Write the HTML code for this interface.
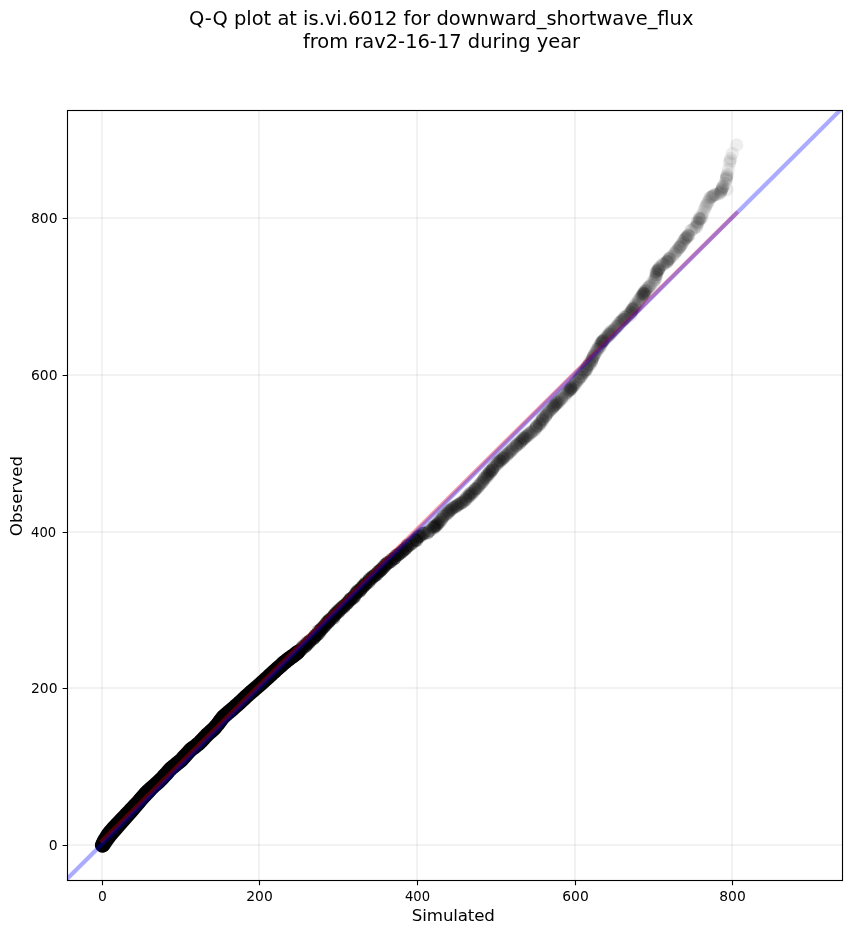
<!DOCTYPE html>
<html><head><meta charset="utf-8"><title>Q-Q plot</title>
<style>html,body{margin:0;padding:0;background:#fff}body{width:851px;height:934px;overflow:hidden}</style></head>
<body>
<svg width="851" height="934" viewBox="0 0 851 934" style="display:block">
<rect width="851" height="934" fill="#fff"/>
<defs><clipPath id="ax"><rect x="67.5" y="110.5" width="775.0" height="770.0"/></clipPath></defs>
<g stroke="#b0b0b0" stroke-opacity="0.17" stroke-width="2.08" fill="none">
<path d="M102.0 110.5V880.5"/>
<path d="M259.0 110.5V880.5"/>
<path d="M417.0 110.5V880.5"/>
<path d="M575.0 110.5V880.5"/>
<path d="M732.0 110.5V880.5"/>
<path d="M67.5 845.0H842.5"/>
<path d="M67.5 688.0H842.5"/>
<path d="M67.5 532.0H842.5"/>
<path d="M67.5 375.0H842.5"/>
<path d="M67.5 218.0H842.5"/>
</g>
<g clip-path="url(#ax)">
<polyline fill="none" stroke="#000" stroke-width="14.8" stroke-linecap="round" stroke-linejoin="round" points="102.3,845.2 103.0,843.7 103.8,841.8 104.7,840.1 105.8,838.4 106.8,836.7 107.9,835.0 109.1,833.4 110.3,831.8 111.6,830.3 112.9,828.8 114.3,827.3 115.7,825.9 117.1,824.4 118.4,823.0 119.8,821.5 121.2,820.1 122.6,818.6 123.9,817.2 125.3,815.7 126.7,814.3 128.1,812.8 129.5,811.4 130.9,809.9 132.2,808.5 133.6,807.0 135.0,805.6 136.4,804.1 137.7,802.7 139.1,801.2 140.4,799.7 141.7,798.2 143.0,796.7 144.3,795.1 145.6,793.6 147.0,792.2 148.4,790.8 149.9,789.5 151.4,788.1 152.9,786.8 154.4,785.5 155.9,784.2 157.4,782.9 158.9,781.5 160.3,780.1 161.7,778.7 163.1,777.2 164.4,775.7 165.8,774.3 167.1,772.8 168.4,771.3 169.8,769.8 171.1,768.3 172.7,767.1 174.2,765.8 175.8,764.6 177.4,763.3 178.9,762.0 180.5,760.8 181.9,759.4 183.2,757.9 184.6,756.4 185.9,755.0 187.3,753.5 188.6,752.0 190.0,750.5 191.4,749.2 193.0,748.0 194.6,746.8 196.2,745.6 197.8,744.3 199.3,743.0 200.7,741.6 202.1,740.1 203.5,738.7 204.8,737.2 206.2,735.7 207.6,734.3 209.1,733.0 210.6,731.7 212.1,730.4 213.6,729.0 214.9,727.6 216.2,726.0 217.5,724.5 218.8,722.9 219.9,721.3 221.1,719.7 222.3,718.1 223.6,716.6 225.1,715.3 226.7,714.0 228.2,712.7 229.7,711.4 231.2,710.1 232.7,708.8 234.2,707.5 235.7,706.2 237.2,704.8 238.7,703.5 240.2,702.1 241.6,700.8 243.1,699.4 244.6,698.1 246.0,696.7 247.5,695.3 249.0,694.0 250.5,692.7 252.0,691.4 253.5,690.1 255.0,688.8 256.6,687.5 258.1,686.2 259.6,684.9 261.1,683.5 262.5,682.2 264.0,680.8 265.5,679.5 267.0,678.1 268.4,676.8 269.9,675.4 271.4,674.1 272.9,672.7 274.4,671.4 275.8,670.0 277.3,668.7 278.8,667.4 280.3,666.1 281.8,664.8 283.3,663.4 284.9,662.1 286.4,660.8 287.9,659.6 289.6,658.4 291.2,657.2 292.8,656.1 294.4,654.9 296.0,653.7 297.5,652.4"/>
<g fill="#000" fill-opacity="0.3">
<circle cx="262.9" cy="682.1" r="6.8"/>
<circle cx="263.5" cy="682.8" r="6.8"/>
<circle cx="263.2" cy="681.2" r="6.8"/>
<circle cx="264.4" cy="680.9" r="6.8"/>
<circle cx="264.8" cy="680.1" r="6.8"/>
<circle cx="265.1" cy="678.9" r="6.8"/>
<circle cx="267.0" cy="678.2" r="6.8"/>
<circle cx="267.8" cy="677.7" r="6.8"/>
<circle cx="268.2" cy="677.6" r="6.8"/>
<circle cx="268.8" cy="677.8" r="6.8"/>
<circle cx="269.9" cy="676.2" r="6.8"/>
<circle cx="268.8" cy="675.4" r="6.8"/>
<circle cx="270.3" cy="676.2" r="6.8"/>
<circle cx="270.3" cy="674.6" r="6.8"/>
<circle cx="272.3" cy="674.5" r="6.8"/>
<circle cx="272.2" cy="673.6" r="6.8"/>
<circle cx="272.9" cy="672.4" r="6.8"/>
<circle cx="273.5" cy="672.7" r="6.8"/>
<circle cx="274.1" cy="670.7" r="6.8"/>
<circle cx="275.2" cy="671.4" r="6.8"/>
<circle cx="275.9" cy="670.9" r="6.8"/>
<circle cx="275.3" cy="670.9" r="6.8"/>
<circle cx="277.0" cy="669.5" r="6.8"/>
<circle cx="277.6" cy="668.9" r="6.8"/>
<circle cx="278.3" cy="668.7" r="6.8"/>
<circle cx="278.8" cy="667.8" r="6.8"/>
<circle cx="278.4" cy="667.6" r="6.8"/>
<circle cx="279.8" cy="666.7" r="6.8"/>
<circle cx="280.6" cy="665.7" r="6.8"/>
<circle cx="282.1" cy="665.1" r="6.8"/>
<circle cx="281.4" cy="665.1" r="6.8"/>
<circle cx="281.7" cy="664.2" r="6.8"/>
<circle cx="282.6" cy="663.2" r="6.8"/>
<circle cx="282.9" cy="662.3" r="6.8"/>
<circle cx="283.9" cy="662.4" r="6.8"/>
<circle cx="285.0" cy="661.6" r="6.8"/>
<circle cx="285.4" cy="662.6" r="6.8"/>
<circle cx="285.9" cy="660.6" r="6.8"/>
<circle cx="287.7" cy="660.2" r="6.8"/>
<circle cx="287.8" cy="659.5" r="6.8"/>
<circle cx="288.0" cy="658.7" r="6.8"/>
<circle cx="290.0" cy="658.8" r="6.8"/>
<circle cx="289.2" cy="658.3" r="6.8"/>
<circle cx="290.3" cy="658.2" r="6.8"/>
<circle cx="291.6" cy="656.9" r="6.8"/>
<circle cx="292.9" cy="656.8" r="6.8"/>
<circle cx="293.4" cy="655.9" r="6.8"/>
<circle cx="293.0" cy="655.7" r="6.8"/>
<circle cx="294.2" cy="655.3" r="6.8"/>
<circle cx="295.1" cy="654.8" r="6.8"/>
<circle cx="295.5" cy="653.6" r="6.8"/>
<circle cx="296.0" cy="653.8" r="6.8"/>
<circle cx="298.0" cy="652.7" r="6.8"/>
<circle cx="297.9" cy="651.6" r="6.8"/>
<circle cx="298.8" cy="652.3" r="6.8"/>
<circle cx="299.4" cy="651.0" r="6.8"/>
<circle cx="299.2" cy="650.5" r="6.8"/>
<circle cx="301.0" cy="649.8" r="6.8"/>
<circle cx="301.0" cy="649.7" r="6.8"/>
<circle cx="301.1" cy="648.8" r="6.8"/>
<circle cx="303.0" cy="648.1" r="6.8"/>
<circle cx="302.9" cy="646.2" r="6.8"/>
<circle cx="303.7" cy="646.6" r="6.8"/>
<circle cx="305.2" cy="646.3" r="6.8"/>
<circle cx="305.8" cy="646.0" r="6.8"/>
<circle cx="306.2" cy="644.4" r="6.8"/>
<circle cx="306.6" cy="644.9" r="6.8"/>
<circle cx="307.0" cy="642.6" r="6.8"/>
<circle cx="308.1" cy="642.8" r="6.8"/>
<circle cx="308.6" cy="643.0" r="6.8"/>
<circle cx="309.5" cy="641.9" r="6.8"/>
<circle cx="309.8" cy="641.0" r="6.8"/>
<circle cx="309.8" cy="640.8" r="6.8"/>
<circle cx="311.5" cy="639.6" r="6.8"/>
<circle cx="313.2" cy="638.5" r="6.8"/>
<circle cx="313.5" cy="638.1" r="6.8"/>
<circle cx="314.6" cy="637.3" r="6.8"/>
<circle cx="314.4" cy="637.8" r="6.8"/>
<circle cx="315.3" cy="635.6" r="6.8"/>
<circle cx="315.2" cy="635.5" r="6.8"/>
<circle cx="315.9" cy="635.3" r="6.8"/>
<circle cx="317.4" cy="634.5" r="6.8"/>
<circle cx="317.3" cy="634.4" r="6.8"/>
<circle cx="319.2" cy="633.1" r="6.8"/>
<circle cx="318.3" cy="631.1" r="6.8"/>
<circle cx="320.2" cy="630.8" r="6.8"/>
<circle cx="319.9" cy="630.7" r="6.8"/>
<circle cx="320.7" cy="629.7" r="6.8"/>
<circle cx="321.1" cy="629.9" r="6.8"/>
<circle cx="321.4" cy="628.6" r="6.8"/>
<circle cx="323.2" cy="627.7" r="6.8"/>
<circle cx="323.0" cy="627.5" r="6.8"/>
<circle cx="324.3" cy="626.0" r="6.8"/>
<circle cx="324.7" cy="625.3" r="6.8"/>
<circle cx="325.4" cy="625.6" r="6.8"/>
<circle cx="325.9" cy="624.2" r="6.8"/>
<circle cx="326.7" cy="622.6" r="6.8"/>
<circle cx="327.4" cy="622.1" r="6.8"/>
<circle cx="328.5" cy="622.3" r="6.8"/>
<circle cx="328.6" cy="621.4" r="6.8"/>
<circle cx="329.1" cy="621.2" r="6.8"/>
<circle cx="329.1" cy="620.1" r="6.8"/>
<circle cx="329.5" cy="619.7" r="6.8"/>
<circle cx="331.2" cy="618.8" r="6.8"/>
<circle cx="332.0" cy="618.3" r="6.8"/>
<circle cx="333.7" cy="618.0" r="6.8"/>
<circle cx="333.3" cy="616.5" r="6.8"/>
<circle cx="333.5" cy="616.0" r="6.8"/>
<circle cx="334.4" cy="615.7" r="6.8"/>
<circle cx="334.9" cy="614.0" r="6.8"/>
<circle cx="335.6" cy="614.3" r="6.8"/>
<circle cx="336.4" cy="613.5" r="6.8"/>
<circle cx="336.5" cy="612.3" r="6.8"/>
<circle cx="337.8" cy="612.0" r="6.8"/>
<circle cx="338.9" cy="611.6" r="6.8"/>
<circle cx="338.7" cy="610.0" r="6.8"/>
<circle cx="339.5" cy="610.5" r="6.8"/>
<circle cx="340.5" cy="608.8" r="6.8"/>
<circle cx="341.2" cy="608.9" r="6.8"/>
<circle cx="342.2" cy="607.3" r="6.8"/>
<circle cx="342.9" cy="606.6" r="6.8"/>
<circle cx="343.8" cy="607.1" r="6.8"/>
<circle cx="344.5" cy="605.6" r="6.8"/>
<circle cx="344.8" cy="605.3" r="6.8"/>
<circle cx="347.0" cy="603.4" r="6.8"/>
<circle cx="346.1" cy="604.3" r="6.8"/>
<circle cx="347.7" cy="602.5" r="6.8"/>
<circle cx="348.1" cy="602.2" r="6.8"/>
<circle cx="349.3" cy="600.7" r="6.8"/>
<circle cx="350.3" cy="600.1" r="6.8"/>
<circle cx="349.9" cy="599.2" r="6.8"/>
<circle cx="350.8" cy="599.1" r="6.8"/>
<circle cx="351.6" cy="598.4" r="6.8"/>
<circle cx="353.1" cy="598.2" r="6.8"/>
<circle cx="353.4" cy="596.8" r="6.8"/>
<circle cx="354.7" cy="596.6" r="6.8"/>
<circle cx="354.6" cy="595.4" r="6.8"/>
<circle cx="355.3" cy="594.3" r="6.8"/>
<circle cx="356.5" cy="593.0" r="6.8"/>
<circle cx="357.4" cy="591.8" r="6.8"/>
<circle cx="356.6" cy="591.7" r="6.8"/>
<circle cx="359.0" cy="591.6" r="6.8"/>
<circle cx="358.2" cy="590.5" r="6.8"/>
<circle cx="360.4" cy="590.4" r="6.8"/>
<circle cx="360.6" cy="589.1" r="6.8"/>
<circle cx="360.9" cy="589.1" r="6.8"/>
<circle cx="362.2" cy="587.3" r="6.8"/>
<circle cx="362.9" cy="587.3" r="6.8"/>
<circle cx="362.9" cy="585.7" r="6.8"/>
<circle cx="364.0" cy="585.7" r="6.8"/>
<circle cx="364.7" cy="584.9" r="6.8"/>
<circle cx="365.7" cy="584.1" r="6.8"/>
<circle cx="365.4" cy="583.1" r="6.8"/>
<circle cx="366.8" cy="582.9" r="6.8"/>
<circle cx="368.8" cy="582.2" r="6.8"/>
<circle cx="369.1" cy="580.1" r="6.8"/>
<circle cx="369.3" cy="580.1" r="6.8"/>
<circle cx="370.1" cy="578.5" r="6.8"/>
<circle cx="371.6" cy="578.8" r="6.8"/>
<circle cx="372.4" cy="576.7" r="6.8"/>
<circle cx="372.6" cy="577.1" r="6.8"/>
<circle cx="374.0" cy="576.0" r="6.8"/>
<circle cx="374.7" cy="575.9" r="6.8"/>
<circle cx="375.3" cy="574.5" r="6.8"/>
<circle cx="376.5" cy="574.8" r="6.8"/>
<circle cx="377.7" cy="573.1" r="6.8"/>
<circle cx="378.1" cy="571.8" r="6.8"/>
<circle cx="379.3" cy="571.1" r="6.8"/>
<circle cx="379.8" cy="571.1" r="6.8"/>
<circle cx="381.1" cy="570.2" r="6.8"/>
<circle cx="381.2" cy="569.4" r="6.8"/>
<circle cx="382.1" cy="568.7" r="6.8"/>
<circle cx="383.3" cy="567.2" r="6.8"/>
<circle cx="384.6" cy="566.7" r="6.8"/>
<circle cx="384.4" cy="565.6" r="6.8"/>
<circle cx="386.3" cy="564.3" r="6.8"/>
<circle cx="386.3" cy="564.1" r="6.8"/>
<circle cx="387.6" cy="562.5" r="6.8"/>
<circle cx="388.3" cy="563.0" r="6.8"/>
<circle cx="390.4" cy="561.6" r="6.8"/>
<circle cx="390.9" cy="561.3" r="6.8"/>
<circle cx="391.8" cy="559.2" r="6.8"/>
<circle cx="393.9" cy="558.9" r="6.8"/>
<circle cx="394.1" cy="558.5" r="6.8"/>
<circle cx="395.0" cy="557.7" r="6.8"/>
<circle cx="395.9" cy="555.5" r="6.8"/>
<circle cx="397.7" cy="555.2" r="6.8"/>
<circle cx="398.8" cy="554.2" r="6.8"/>
<circle cx="399.1" cy="553.8" r="6.8"/>
<circle cx="401.2" cy="552.5" r="6.8"/>
<circle cx="402.5" cy="550.9" r="6.8"/>
<circle cx="403.2" cy="550.7" r="6.8"/>
<circle cx="404.9" cy="549.0" r="6.8"/>
<circle cx="405.8" cy="548.5" r="6.8"/>
<circle cx="407.1" cy="546.9" r="6.8"/>
<circle cx="407.5" cy="545.3" r="6.8"/>
<circle cx="409.2" cy="545.3" r="6.8"/>
<circle cx="411.3" cy="544.0" r="6.8"/>
<circle cx="412.4" cy="542.2" r="6.8"/>
<circle cx="414.8" cy="540.4" r="6.8"/>
<circle cx="416.5" cy="540.5" r="6.8"/>
<circle cx="416.2" cy="539.2" r="6.8"/>
<circle cx="418.0" cy="537.3" r="6.8"/>
<circle cx="418.9" cy="536.2" r="6.8"/>
<circle cx="420.9" cy="535.6" r="6.8"/>
<circle cx="422.7" cy="533.6" r="6.8"/>
<circle cx="424.3" cy="533.2" r="6.8"/>
<circle cx="427.6" cy="532.6" r="6.8"/>
<circle cx="429.5" cy="530.7" r="6.8"/>
</g>
<polyline fill="none" stroke="#000" stroke-width="14.8" stroke-linecap="round" stroke-linejoin="round" points="103.0,845.0 106.0,840.6 110.0,835.2 120.0,823.6 130.0,812.4 140.0,800.6 150.0,789.7"/>
<g fill="#000" fill-opacity="0.065">
<circle cx="431.9" cy="527.8" r="6.65"/>
<circle cx="432.7" cy="529.0" r="6.65"/>
<circle cx="432.5" cy="527.7" r="6.65"/>
<circle cx="433.8" cy="527.1" r="6.65"/>
<circle cx="434.3" cy="528.4" r="6.65"/>
<circle cx="433.9" cy="527.7" r="6.65"/>
<circle cx="433.8" cy="526.3" r="6.65"/>
<circle cx="433.4" cy="526.6" r="6.65"/>
<circle cx="433.9" cy="526.9" r="6.65"/>
<circle cx="434.7" cy="526.8" r="6.65"/>
<circle cx="434.6" cy="525.5" r="6.65"/>
<circle cx="434.3" cy="525.9" r="6.65"/>
<circle cx="435.1" cy="526.3" r="6.65"/>
<circle cx="434.7" cy="526.6" r="6.65"/>
<circle cx="436.4" cy="525.8" r="6.65"/>
<circle cx="435.9" cy="526.4" r="6.65"/>
<circle cx="435.8" cy="525.7" r="6.65"/>
<circle cx="435.7" cy="525.5" r="6.65"/>
<circle cx="436.5" cy="524.5" r="6.65"/>
<circle cx="436.9" cy="524.4" r="6.65"/>
<circle cx="436.9" cy="524.6" r="6.65"/>
<circle cx="437.8" cy="524.8" r="6.65"/>
<circle cx="437.4" cy="523.5" r="6.65"/>
<circle cx="437.8" cy="524.2" r="6.65"/>
<circle cx="437.9" cy="522.2" r="6.65"/>
<circle cx="438.2" cy="522.1" r="6.65"/>
<circle cx="438.7" cy="523.1" r="6.65"/>
<circle cx="439.0" cy="522.9" r="6.65"/>
<circle cx="438.9" cy="521.6" r="6.65"/>
<circle cx="439.6" cy="522.3" r="6.65"/>
<circle cx="440.9" cy="521.2" r="6.65"/>
<circle cx="441.2" cy="519.8" r="6.65"/>
<circle cx="440.0" cy="520.7" r="6.65"/>
<circle cx="440.3" cy="519.3" r="6.65"/>
<circle cx="442.2" cy="519.2" r="6.65"/>
<circle cx="441.3" cy="519.9" r="6.65"/>
<circle cx="441.4" cy="518.4" r="6.65"/>
<circle cx="442.5" cy="517.9" r="6.65"/>
<circle cx="443.1" cy="516.6" r="6.65"/>
<circle cx="442.8" cy="516.8" r="6.65"/>
<circle cx="443.4" cy="516.5" r="6.65"/>
<circle cx="444.1" cy="515.8" r="6.65"/>
<circle cx="443.8" cy="515.5" r="6.65"/>
<circle cx="444.4" cy="515.2" r="6.65"/>
<circle cx="446.5" cy="514.2" r="6.65"/>
<circle cx="446.6" cy="514.7" r="6.65"/>
<circle cx="446.2" cy="513.5" r="6.65"/>
<circle cx="446.4" cy="513.6" r="6.65"/>
<circle cx="447.7" cy="513.3" r="6.65"/>
<circle cx="447.9" cy="512.5" r="6.65"/>
<circle cx="448.4" cy="511.8" r="6.65"/>
<circle cx="448.9" cy="512.9" r="6.65"/>
<circle cx="447.6" cy="511.0" r="6.65"/>
<circle cx="448.8" cy="510.5" r="6.65"/>
<circle cx="448.8" cy="511.9" r="6.65"/>
<circle cx="450.8" cy="510.3" r="6.65"/>
<circle cx="449.3" cy="510.8" r="6.65"/>
<circle cx="450.3" cy="510.2" r="6.65"/>
<circle cx="451.1" cy="509.9" r="6.65"/>
<circle cx="451.4" cy="509.8" r="6.65"/>
<circle cx="450.8" cy="509.2" r="6.65"/>
<circle cx="451.7" cy="508.6" r="6.65"/>
<circle cx="452.4" cy="508.0" r="6.65"/>
<circle cx="452.2" cy="508.3" r="6.65"/>
<circle cx="453.2" cy="508.0" r="6.65"/>
<circle cx="454.5" cy="506.9" r="6.65"/>
<circle cx="453.9" cy="507.5" r="6.65"/>
<circle cx="453.9" cy="506.7" r="6.65"/>
<circle cx="455.0" cy="506.6" r="6.65"/>
<circle cx="455.7" cy="507.2" r="6.65"/>
<circle cx="456.2" cy="506.5" r="6.65"/>
<circle cx="456.4" cy="506.1" r="6.65"/>
<circle cx="456.7" cy="506.1" r="6.65"/>
<circle cx="456.9" cy="505.4" r="6.65"/>
<circle cx="457.6" cy="505.2" r="6.65"/>
<circle cx="457.5" cy="504.8" r="6.65"/>
<circle cx="458.7" cy="504.6" r="6.65"/>
<circle cx="457.9" cy="504.7" r="6.65"/>
<circle cx="459.5" cy="504.1" r="6.65"/>
<circle cx="459.3" cy="503.8" r="6.65"/>
<circle cx="460.2" cy="503.3" r="6.65"/>
<circle cx="461.0" cy="503.4" r="6.65"/>
<circle cx="461.3" cy="503.4" r="6.65"/>
<circle cx="461.1" cy="502.7" r="6.65"/>
<circle cx="462.6" cy="502.5" r="6.65"/>
<circle cx="462.0" cy="502.9" r="6.65"/>
<circle cx="461.5" cy="501.8" r="6.65"/>
<circle cx="463.1" cy="501.7" r="6.65"/>
<circle cx="463.5" cy="502.0" r="6.65"/>
<circle cx="463.7" cy="500.3" r="6.65"/>
<circle cx="465.1" cy="500.8" r="6.65"/>
<circle cx="465.6" cy="499.7" r="6.65"/>
<circle cx="465.4" cy="499.5" r="6.65"/>
<circle cx="465.9" cy="499.3" r="6.65"/>
<circle cx="466.2" cy="498.8" r="6.65"/>
<circle cx="465.7" cy="497.5" r="6.65"/>
<circle cx="467.3" cy="499.3" r="6.65"/>
<circle cx="466.2" cy="497.7" r="6.65"/>
<circle cx="468.7" cy="496.5" r="6.65"/>
<circle cx="468.4" cy="496.9" r="6.65"/>
<circle cx="467.3" cy="495.7" r="6.65"/>
<circle cx="469.0" cy="496.4" r="6.65"/>
<circle cx="469.2" cy="495.6" r="6.65"/>
<circle cx="469.0" cy="495.7" r="6.65"/>
<circle cx="469.2" cy="493.9" r="6.65"/>
<circle cx="470.5" cy="495.5" r="6.65"/>
<circle cx="470.3" cy="493.3" r="6.65"/>
<circle cx="469.6" cy="493.6" r="6.65"/>
<circle cx="470.8" cy="494.1" r="6.65"/>
<circle cx="471.6" cy="494.3" r="6.65"/>
<circle cx="471.4" cy="493.0" r="6.65"/>
<circle cx="472.6" cy="493.4" r="6.65"/>
<circle cx="471.9" cy="491.7" r="6.65"/>
<circle cx="472.4" cy="492.3" r="6.65"/>
<circle cx="473.8" cy="492.3" r="6.65"/>
<circle cx="474.2" cy="491.3" r="6.65"/>
<circle cx="474.0" cy="490.0" r="6.65"/>
<circle cx="474.8" cy="490.6" r="6.65"/>
<circle cx="475.3" cy="489.3" r="6.65"/>
<circle cx="476.0" cy="488.8" r="6.65"/>
<circle cx="474.4" cy="489.6" r="6.65"/>
<circle cx="475.9" cy="488.4" r="6.65"/>
<circle cx="476.1" cy="488.7" r="6.65"/>
<circle cx="475.7" cy="488.8" r="6.65"/>
<circle cx="477.7" cy="488.1" r="6.65"/>
<circle cx="477.7" cy="487.5" r="6.65"/>
<circle cx="477.8" cy="486.4" r="6.65"/>
<circle cx="478.7" cy="486.5" r="6.65"/>
<circle cx="478.4" cy="485.2" r="6.65"/>
<circle cx="479.5" cy="485.5" r="6.65"/>
<circle cx="480.0" cy="484.8" r="6.65"/>
<circle cx="479.6" cy="484.1" r="6.65"/>
<circle cx="480.6" cy="483.2" r="6.65"/>
<circle cx="481.1" cy="482.7" r="6.65"/>
<circle cx="481.5" cy="483.1" r="6.65"/>
<circle cx="482.8" cy="482.6" r="6.65"/>
<circle cx="482.3" cy="481.8" r="6.65"/>
<circle cx="483.0" cy="481.1" r="6.65"/>
<circle cx="483.2" cy="480.7" r="6.65"/>
<circle cx="483.1" cy="480.3" r="6.65"/>
<circle cx="484.1" cy="479.2" r="6.65"/>
<circle cx="483.7" cy="478.5" r="6.65"/>
<circle cx="484.9" cy="478.5" r="6.65"/>
<circle cx="484.6" cy="477.9" r="6.65"/>
<circle cx="486.3" cy="478.4" r="6.65"/>
<circle cx="485.0" cy="476.8" r="6.65"/>
<circle cx="486.5" cy="477.4" r="6.65"/>
<circle cx="485.8" cy="476.6" r="6.65"/>
<circle cx="487.5" cy="476.0" r="6.65"/>
<circle cx="487.2" cy="475.4" r="6.65"/>
<circle cx="487.0" cy="474.5" r="6.65"/>
<circle cx="487.5" cy="474.8" r="6.65"/>
<circle cx="488.2" cy="473.8" r="6.65"/>
<circle cx="487.8" cy="475.1" r="6.65"/>
<circle cx="488.8" cy="473.8" r="6.65"/>
<circle cx="489.8" cy="473.1" r="6.65"/>
<circle cx="490.3" cy="473.8" r="6.65"/>
<circle cx="489.8" cy="471.2" r="6.65"/>
<circle cx="490.8" cy="472.0" r="6.65"/>
<circle cx="491.0" cy="471.4" r="6.65"/>
<circle cx="489.4" cy="472.2" r="6.65"/>
<circle cx="492.0" cy="470.3" r="6.65"/>
<circle cx="490.1" cy="471.0" r="6.65"/>
<circle cx="489.6" cy="471.8" r="6.65"/>
<circle cx="491.9" cy="470.1" r="6.65"/>
<circle cx="492.1" cy="469.8" r="6.65"/>
<circle cx="492.7" cy="470.2" r="6.65"/>
<circle cx="492.1" cy="470.0" r="6.65"/>
<circle cx="492.5" cy="468.8" r="6.65"/>
<circle cx="493.0" cy="467.9" r="6.65"/>
<circle cx="492.9" cy="468.2" r="6.65"/>
<circle cx="493.8" cy="466.5" r="6.65"/>
<circle cx="494.2" cy="467.1" r="6.65"/>
<circle cx="494.6" cy="466.8" r="6.65"/>
<circle cx="495.5" cy="465.8" r="6.65"/>
<circle cx="495.8" cy="464.2" r="6.65"/>
<circle cx="497.7" cy="464.3" r="6.65"/>
<circle cx="497.0" cy="463.5" r="6.65"/>
<circle cx="497.4" cy="463.8" r="6.65"/>
<circle cx="497.0" cy="463.0" r="6.65"/>
<circle cx="497.8" cy="462.2" r="6.65"/>
<circle cx="498.9" cy="461.6" r="6.65"/>
<circle cx="497.9" cy="461.9" r="6.65"/>
<circle cx="499.5" cy="460.9" r="6.65"/>
<circle cx="499.8" cy="462.0" r="6.65"/>
<circle cx="500.4" cy="460.7" r="6.65"/>
<circle cx="499.8" cy="460.2" r="6.65"/>
<circle cx="500.8" cy="460.3" r="6.65"/>
<circle cx="501.3" cy="460.8" r="6.65"/>
<circle cx="499.9" cy="459.8" r="6.65"/>
<circle cx="502.0" cy="457.9" r="6.65"/>
<circle cx="502.3" cy="459.1" r="6.65"/>
<circle cx="503.0" cy="458.7" r="6.65"/>
<circle cx="502.7" cy="458.5" r="6.65"/>
<circle cx="502.9" cy="458.0" r="6.65"/>
<circle cx="503.3" cy="458.1" r="6.65"/>
<circle cx="504.1" cy="456.8" r="6.65"/>
<circle cx="504.2" cy="457.2" r="6.65"/>
<circle cx="504.1" cy="456.9" r="6.65"/>
<circle cx="504.6" cy="455.1" r="6.65"/>
<circle cx="505.9" cy="455.3" r="6.65"/>
<circle cx="506.7" cy="456.1" r="6.65"/>
<circle cx="506.8" cy="454.2" r="6.65"/>
<circle cx="507.5" cy="453.7" r="6.65"/>
<circle cx="507.5" cy="454.3" r="6.65"/>
<circle cx="508.9" cy="453.5" r="6.65"/>
<circle cx="509.4" cy="452.4" r="6.65"/>
<circle cx="508.2" cy="452.8" r="6.65"/>
<circle cx="510.4" cy="451.6" r="6.65"/>
<circle cx="509.6" cy="451.2" r="6.65"/>
<circle cx="510.3" cy="451.0" r="6.65"/>
<circle cx="511.7" cy="451.1" r="6.65"/>
<circle cx="512.5" cy="449.8" r="6.65"/>
<circle cx="512.0" cy="449.6" r="6.65"/>
<circle cx="512.2" cy="448.9" r="6.65"/>
<circle cx="512.3" cy="448.5" r="6.65"/>
<circle cx="514.4" cy="447.9" r="6.65"/>
<circle cx="514.0" cy="447.1" r="6.65"/>
<circle cx="515.7" cy="445.8" r="6.65"/>
<circle cx="516.3" cy="445.8" r="6.65"/>
<circle cx="516.7" cy="445.9" r="6.65"/>
<circle cx="515.9" cy="445.1" r="6.65"/>
<circle cx="516.7" cy="445.8" r="6.65"/>
<circle cx="517.6" cy="444.3" r="6.65"/>
<circle cx="517.5" cy="443.6" r="6.65"/>
<circle cx="517.2" cy="443.4" r="6.65"/>
<circle cx="519.5" cy="443.0" r="6.65"/>
<circle cx="519.7" cy="443.8" r="6.65"/>
<circle cx="519.8" cy="442.8" r="6.65"/>
<circle cx="520.2" cy="441.6" r="6.65"/>
<circle cx="520.3" cy="442.8" r="6.65"/>
<circle cx="521.3" cy="441.0" r="6.65"/>
<circle cx="520.9" cy="441.1" r="6.65"/>
<circle cx="521.9" cy="440.8" r="6.65"/>
<circle cx="522.4" cy="439.9" r="6.65"/>
<circle cx="522.4" cy="440.1" r="6.65"/>
<circle cx="523.3" cy="439.7" r="6.65"/>
<circle cx="523.0" cy="438.0" r="6.65"/>
<circle cx="522.7" cy="438.0" r="6.65"/>
<circle cx="524.2" cy="438.4" r="6.65"/>
<circle cx="524.3" cy="438.0" r="6.65"/>
<circle cx="524.4" cy="438.3" r="6.65"/>
<circle cx="524.8" cy="438.0" r="6.65"/>
<circle cx="525.6" cy="437.1" r="6.65"/>
<circle cx="525.9" cy="436.6" r="6.65"/>
<circle cx="526.3" cy="436.2" r="6.65"/>
<circle cx="527.4" cy="435.8" r="6.65"/>
<circle cx="526.7" cy="435.3" r="6.65"/>
<circle cx="528.2" cy="435.5" r="6.65"/>
<circle cx="528.0" cy="435.0" r="6.65"/>
<circle cx="528.9" cy="433.2" r="6.65"/>
<circle cx="530.2" cy="434.3" r="6.65"/>
<circle cx="528.9" cy="433.3" r="6.65"/>
<circle cx="530.4" cy="433.3" r="6.65"/>
<circle cx="531.0" cy="432.4" r="6.65"/>
<circle cx="531.5" cy="432.0" r="6.65"/>
<circle cx="532.2" cy="431.7" r="6.65"/>
<circle cx="532.8" cy="430.5" r="6.65"/>
<circle cx="533.8" cy="431.2" r="6.65"/>
<circle cx="535.5" cy="429.5" r="6.65"/>
<circle cx="534.5" cy="429.5" r="6.65"/>
<circle cx="535.7" cy="428.3" r="6.65"/>
<circle cx="535.5" cy="427.6" r="6.65"/>
<circle cx="536.5" cy="427.8" r="6.65"/>
<circle cx="536.5" cy="426.2" r="6.65"/>
<circle cx="536.3" cy="426.5" r="6.65"/>
<circle cx="536.8" cy="426.1" r="6.65"/>
<circle cx="536.6" cy="425.6" r="6.65"/>
<circle cx="538.3" cy="425.9" r="6.65"/>
<circle cx="539.4" cy="424.4" r="6.65"/>
<circle cx="539.5" cy="425.5" r="6.65"/>
<circle cx="539.4" cy="423.6" r="6.65"/>
<circle cx="539.6" cy="423.6" r="6.65"/>
<circle cx="541.4" cy="423.4" r="6.65"/>
<circle cx="539.5" cy="422.9" r="6.65"/>
<circle cx="540.8" cy="421.9" r="6.65"/>
<circle cx="541.9" cy="420.6" r="6.65"/>
<circle cx="542.3" cy="420.9" r="6.65"/>
<circle cx="541.0" cy="420.2" r="6.65"/>
<circle cx="543.0" cy="420.1" r="6.65"/>
<circle cx="542.4" cy="419.4" r="6.65"/>
<circle cx="542.8" cy="418.4" r="6.65"/>
<circle cx="543.0" cy="418.3" r="6.65"/>
<circle cx="543.7" cy="418.2" r="6.65"/>
<circle cx="543.0" cy="416.4" r="6.65"/>
<circle cx="545.6" cy="416.5" r="6.65"/>
<circle cx="545.3" cy="416.0" r="6.65"/>
<circle cx="545.8" cy="415.9" r="6.65"/>
<circle cx="546.3" cy="415.8" r="6.65"/>
<circle cx="546.2" cy="414.3" r="6.65"/>
<circle cx="546.5" cy="413.9" r="6.65"/>
<circle cx="547.8" cy="413.5" r="6.65"/>
<circle cx="547.1" cy="413.2" r="6.65"/>
<circle cx="549.4" cy="411.4" r="6.65"/>
<circle cx="548.2" cy="411.9" r="6.65"/>
<circle cx="549.1" cy="411.3" r="6.65"/>
<circle cx="548.9" cy="411.1" r="6.65"/>
<circle cx="550.4" cy="409.9" r="6.65"/>
<circle cx="551.2" cy="409.1" r="6.65"/>
<circle cx="551.9" cy="408.9" r="6.65"/>
<circle cx="552.2" cy="408.9" r="6.65"/>
<circle cx="553.0" cy="407.3" r="6.65"/>
<circle cx="553.6" cy="406.5" r="6.65"/>
<circle cx="553.1" cy="407.1" r="6.65"/>
<circle cx="553.3" cy="406.2" r="6.65"/>
<circle cx="553.7" cy="406.4" r="6.65"/>
<circle cx="555.1" cy="404.9" r="6.65"/>
<circle cx="555.1" cy="405.4" r="6.65"/>
<circle cx="554.5" cy="405.4" r="6.65"/>
<circle cx="555.5" cy="404.7" r="6.65"/>
<circle cx="555.5" cy="404.5" r="6.65"/>
<circle cx="556.6" cy="404.1" r="6.65"/>
<circle cx="556.8" cy="403.2" r="6.65"/>
<circle cx="556.5" cy="402.2" r="6.65"/>
<circle cx="557.5" cy="401.8" r="6.65"/>
<circle cx="556.4" cy="402.8" r="6.65"/>
<circle cx="558.4" cy="402.9" r="6.65"/>
<circle cx="557.4" cy="402.2" r="6.65"/>
<circle cx="558.8" cy="400.9" r="6.65"/>
<circle cx="559.3" cy="401.6" r="6.65"/>
<circle cx="559.3" cy="400.0" r="6.65"/>
<circle cx="560.5" cy="399.7" r="6.65"/>
<circle cx="561.8" cy="398.9" r="6.65"/>
<circle cx="561.4" cy="398.8" r="6.65"/>
<circle cx="561.4" cy="398.1" r="6.65"/>
<circle cx="562.0" cy="397.3" r="6.65"/>
<circle cx="563.1" cy="395.7" r="6.65"/>
<circle cx="565.3" cy="396.4" r="6.65"/>
<circle cx="564.7" cy="394.6" r="6.65"/>
<circle cx="564.6" cy="394.4" r="6.65"/>
<circle cx="566.4" cy="393.4" r="6.65"/>
<circle cx="567.5" cy="392.7" r="6.65"/>
<circle cx="566.4" cy="392.7" r="6.65"/>
<circle cx="568.2" cy="391.2" r="6.65"/>
<circle cx="567.9" cy="391.5" r="6.65"/>
<circle cx="569.1" cy="390.5" r="6.65"/>
<circle cx="569.0" cy="390.5" r="6.65"/>
<circle cx="569.5" cy="389.9" r="6.65"/>
<circle cx="570.5" cy="389.4" r="6.65"/>
<circle cx="569.9" cy="389.4" r="6.65"/>
<circle cx="570.5" cy="389.8" r="6.65"/>
<circle cx="571.0" cy="388.4" r="6.65"/>
<circle cx="570.6" cy="390.1" r="6.65"/>
<circle cx="570.7" cy="387.8" r="6.65"/>
<circle cx="571.4" cy="388.6" r="6.65"/>
<circle cx="571.8" cy="387.6" r="6.65"/>
<circle cx="571.1" cy="387.3" r="6.65"/>
<circle cx="571.4" cy="388.0" r="6.65"/>
<circle cx="573.2" cy="386.2" r="6.65"/>
<circle cx="572.6" cy="386.1" r="6.65"/>
<circle cx="573.6" cy="386.1" r="6.65"/>
<circle cx="573.3" cy="385.8" r="6.65"/>
<circle cx="574.3" cy="384.4" r="6.65"/>
<circle cx="575.1" cy="382.9" r="6.65"/>
<circle cx="576.0" cy="384.2" r="6.65"/>
<circle cx="575.3" cy="383.0" r="6.65"/>
<circle cx="576.3" cy="382.1" r="6.65"/>
<circle cx="576.3" cy="381.2" r="6.65"/>
<circle cx="578.0" cy="379.8" r="6.65"/>
<circle cx="578.5" cy="380.0" r="6.65"/>
<circle cx="578.3" cy="379.3" r="6.65"/>
<circle cx="579.1" cy="378.9" r="6.65"/>
<circle cx="579.4" cy="377.4" r="6.65"/>
<circle cx="580.5" cy="377.3" r="6.65"/>
<circle cx="580.0" cy="376.8" r="6.65"/>
<circle cx="581.1" cy="376.8" r="6.65"/>
<circle cx="581.8" cy="376.1" r="6.65"/>
<circle cx="581.8" cy="374.5" r="6.65"/>
<circle cx="582.5" cy="373.6" r="6.65"/>
<circle cx="582.0" cy="373.5" r="6.65"/>
<circle cx="582.8" cy="372.7" r="6.65"/>
<circle cx="584.5" cy="372.8" r="6.65"/>
<circle cx="584.5" cy="371.4" r="6.65"/>
<circle cx="584.1" cy="371.1" r="6.65"/>
<circle cx="585.6" cy="370.2" r="6.65"/>
<circle cx="585.6" cy="371.1" r="6.65"/>
<circle cx="586.2" cy="369.6" r="6.65"/>
<circle cx="586.7" cy="369.0" r="6.65"/>
<circle cx="586.9" cy="369.2" r="6.65"/>
<circle cx="586.5" cy="368.6" r="6.65"/>
<circle cx="587.2" cy="367.1" r="6.65"/>
<circle cx="586.8" cy="366.4" r="6.65"/>
<circle cx="587.6" cy="366.1" r="6.65"/>
<circle cx="589.1" cy="364.9" r="6.65"/>
<circle cx="588.3" cy="365.0" r="6.65"/>
<circle cx="589.6" cy="364.0" r="6.65"/>
<circle cx="590.7" cy="364.3" r="6.65"/>
<circle cx="589.9" cy="363.0" r="6.65"/>
<circle cx="591.6" cy="361.8" r="6.65"/>
<circle cx="589.5" cy="361.7" r="6.65"/>
<circle cx="591.9" cy="360.7" r="6.65"/>
<circle cx="591.8" cy="360.9" r="6.65"/>
<circle cx="591.7" cy="359.4" r="6.65"/>
<circle cx="591.9" cy="360.2" r="6.65"/>
<circle cx="592.2" cy="358.9" r="6.65"/>
<circle cx="592.7" cy="357.7" r="6.65"/>
<circle cx="593.1" cy="357.8" r="6.65"/>
<circle cx="593.1" cy="356.8" r="6.65"/>
<circle cx="593.8" cy="356.0" r="6.65"/>
<circle cx="593.9" cy="355.8" r="6.65"/>
<circle cx="594.0" cy="355.1" r="6.65"/>
<circle cx="595.1" cy="354.1" r="6.65"/>
<circle cx="595.0" cy="353.2" r="6.65"/>
<circle cx="595.4" cy="352.2" r="6.65"/>
<circle cx="596.7" cy="351.7" r="6.65"/>
<circle cx="597.6" cy="349.9" r="6.65"/>
<circle cx="596.4" cy="349.4" r="6.65"/>
<circle cx="597.9" cy="348.8" r="6.65"/>
<circle cx="597.5" cy="349.0" r="6.65"/>
<circle cx="599.6" cy="347.9" r="6.65"/>
<circle cx="598.5" cy="346.5" r="6.65"/>
<circle cx="599.4" cy="347.2" r="6.65"/>
<circle cx="600.2" cy="345.8" r="6.65"/>
<circle cx="599.9" cy="344.7" r="6.65"/>
<circle cx="600.8" cy="345.9" r="6.65"/>
<circle cx="601.0" cy="343.1" r="6.65"/>
<circle cx="601.3" cy="343.4" r="6.65"/>
<circle cx="601.1" cy="342.2" r="6.65"/>
<circle cx="601.8" cy="343.3" r="6.65"/>
<circle cx="602.5" cy="342.2" r="6.65"/>
<circle cx="602.2" cy="341.8" r="6.65"/>
<circle cx="602.3" cy="341.4" r="6.65"/>
<circle cx="602.3" cy="341.3" r="6.65"/>
<circle cx="603.8" cy="340.3" r="6.65"/>
<circle cx="602.6" cy="340.6" r="6.65"/>
<circle cx="602.9" cy="340.7" r="6.65"/>
<circle cx="604.1" cy="340.6" r="6.65"/>
<circle cx="604.2" cy="339.1" r="6.65"/>
<circle cx="605.3" cy="339.1" r="6.65"/>
<circle cx="605.3" cy="338.1" r="6.65"/>
<circle cx="606.0" cy="337.2" r="6.65"/>
<circle cx="607.7" cy="336.8" r="6.65"/>
<circle cx="607.3" cy="335.9" r="6.65"/>
<circle cx="608.6" cy="336.0" r="6.65"/>
<circle cx="608.4" cy="334.0" r="6.65"/>
<circle cx="609.0" cy="335.0" r="6.65"/>
<circle cx="610.3" cy="334.1" r="6.65"/>
<circle cx="608.8" cy="333.9" r="6.65"/>
<circle cx="610.7" cy="333.8" r="6.65"/>
<circle cx="610.2" cy="332.2" r="6.65"/>
<circle cx="611.3" cy="332.6" r="6.65"/>
<circle cx="610.8" cy="331.0" r="6.65"/>
<circle cx="612.2" cy="331.3" r="6.65"/>
<circle cx="613.6" cy="331.0" r="6.65"/>
<circle cx="612.8" cy="330.3" r="6.65"/>
<circle cx="614.7" cy="329.2" r="6.65"/>
<circle cx="614.6" cy="329.3" r="6.65"/>
<circle cx="615.8" cy="327.8" r="6.65"/>
<circle cx="615.9" cy="326.7" r="6.65"/>
<circle cx="617.4" cy="326.4" r="6.65"/>
<circle cx="616.9" cy="326.7" r="6.65"/>
<circle cx="619.0" cy="325.2" r="6.65"/>
<circle cx="618.1" cy="324.5" r="6.65"/>
<circle cx="618.8" cy="323.4" r="6.65"/>
<circle cx="619.9" cy="323.0" r="6.65"/>
<circle cx="619.8" cy="322.2" r="6.65"/>
<circle cx="621.1" cy="321.7" r="6.65"/>
<circle cx="621.6" cy="320.9" r="6.65"/>
<circle cx="622.1" cy="320.9" r="6.65"/>
<circle cx="622.0" cy="319.7" r="6.65"/>
<circle cx="623.0" cy="319.7" r="6.65"/>
<circle cx="623.9" cy="319.3" r="6.65"/>
<circle cx="624.2" cy="319.4" r="6.65"/>
<circle cx="624.2" cy="319.3" r="6.65"/>
<circle cx="624.0" cy="317.5" r="6.65"/>
<circle cx="625.0" cy="317.0" r="6.65"/>
<circle cx="625.2" cy="317.4" r="6.65"/>
<circle cx="627.0" cy="317.0" r="6.65"/>
<circle cx="626.6" cy="315.9" r="6.65"/>
<circle cx="628.2" cy="314.9" r="6.65"/>
<circle cx="627.9" cy="314.1" r="6.65"/>
<circle cx="630.5" cy="315.4" r="6.65"/>
<circle cx="630.0" cy="313.6" r="6.65"/>
<circle cx="630.7" cy="312.4" r="6.65"/>
<circle cx="630.1" cy="312.1" r="6.65"/>
<circle cx="631.3" cy="312.8" r="6.65"/>
<circle cx="631.5" cy="311.2" r="6.65"/>
<circle cx="631.8" cy="310.8" r="6.65"/>
<circle cx="631.9" cy="309.3" r="6.65"/>
<circle cx="632.6" cy="309.8" r="6.65"/>
<circle cx="632.6" cy="309.1" r="6.65"/>
<circle cx="632.6" cy="309.2" r="6.65"/>
<circle cx="633.3" cy="309.0" r="6.65"/>
<circle cx="633.5" cy="308.2" r="6.65"/>
<circle cx="634.3" cy="307.7" r="6.65"/>
<circle cx="634.9" cy="307.0" r="6.65"/>
<circle cx="635.8" cy="307.0" r="6.65"/>
<circle cx="634.7" cy="305.5" r="6.65"/>
<circle cx="635.4" cy="304.9" r="6.65"/>
<circle cx="637.7" cy="304.3" r="6.65"/>
<circle cx="636.3" cy="302.8" r="6.65"/>
<circle cx="638.6" cy="301.9" r="6.65"/>
<circle cx="638.5" cy="299.7" r="6.65"/>
<circle cx="639.0" cy="300.2" r="6.65"/>
<circle cx="639.7" cy="298.7" r="6.65"/>
<circle cx="640.2" cy="298.0" r="6.65"/>
<circle cx="641.9" cy="297.1" r="6.65"/>
<circle cx="641.8" cy="296.0" r="6.65"/>
<circle cx="641.9" cy="295.8" r="6.65"/>
<circle cx="642.1" cy="296.0" r="6.65"/>
<circle cx="642.8" cy="293.5" r="6.65"/>
<circle cx="642.7" cy="294.6" r="6.65"/>
<circle cx="643.3" cy="294.2" r="6.65"/>
<circle cx="643.5" cy="294.6" r="6.65"/>
<circle cx="643.5" cy="293.2" r="6.65"/>
<circle cx="644.1" cy="293.3" r="6.65"/>
<circle cx="644.5" cy="293.4" r="6.65"/>
<circle cx="644.4" cy="293.5" r="6.65"/>
<circle cx="644.3" cy="291.8" r="6.65"/>
<circle cx="644.9" cy="291.7" r="6.65"/>
<circle cx="645.3" cy="290.3" r="6.65"/>
<circle cx="645.1" cy="291.5" r="6.65"/>
<circle cx="646.2" cy="290.7" r="6.65"/>
<circle cx="646.9" cy="289.9" r="6.65"/>
<circle cx="646.8" cy="288.5" r="6.65"/>
<circle cx="648.2" cy="287.8" r="6.65"/>
<circle cx="648.9" cy="286.7" r="6.65"/>
<circle cx="649.1" cy="287.0" r="6.65"/>
<circle cx="650.2" cy="285.6" r="6.65"/>
<circle cx="650.7" cy="285.0" r="6.65"/>
<circle cx="652.3" cy="282.0" r="6.65"/>
<circle cx="653.9" cy="283.1" r="6.65"/>
<circle cx="654.4" cy="280.2" r="6.65"/>
<circle cx="654.9" cy="279.8" r="6.65"/>
<circle cx="655.1" cy="277.5" r="6.65"/>
<circle cx="655.9" cy="278.0" r="6.65"/>
<circle cx="656.1" cy="276.4" r="6.65"/>
<circle cx="656.7" cy="274.6" r="6.65"/>
<circle cx="656.0" cy="274.5" r="6.65"/>
<circle cx="656.8" cy="274.4" r="6.65"/>
<circle cx="656.4" cy="272.9" r="6.65"/>
<circle cx="655.9" cy="272.4" r="6.65"/>
<circle cx="657.2" cy="271.6" r="6.65"/>
<circle cx="657.9" cy="270.6" r="6.65"/>
<circle cx="656.4" cy="271.3" r="6.65"/>
<circle cx="657.7" cy="270.1" r="6.65"/>
<circle cx="658.3" cy="269.2" r="6.65"/>
<circle cx="658.4" cy="270.3" r="6.65"/>
<circle cx="658.7" cy="269.8" r="6.65"/>
<circle cx="658.7" cy="268.7" r="6.65"/>
<circle cx="659.6" cy="268.5" r="6.65"/>
<circle cx="659.5" cy="267.1" r="6.65"/>
<circle cx="660.3" cy="266.6" r="6.65"/>
<circle cx="662.2" cy="264.9" r="6.65"/>
<circle cx="662.6" cy="264.0" r="6.65"/>
<circle cx="663.9" cy="264.3" r="6.65"/>
<circle cx="664.6" cy="263.6" r="6.65"/>
<circle cx="666.4" cy="262.4" r="6.65"/>
<circle cx="666.6" cy="261.6" r="6.65"/>
<circle cx="667.0" cy="261.9" r="6.65"/>
<circle cx="668.0" cy="261.6" r="6.65"/>
<circle cx="667.4" cy="261.1" r="6.65"/>
<circle cx="668.1" cy="260.1" r="6.65"/>
<circle cx="668.7" cy="259.5" r="6.65"/>
<circle cx="668.7" cy="258.9" r="6.65"/>
<circle cx="669.8" cy="258.3" r="6.65"/>
<circle cx="669.5" cy="258.5" r="6.65"/>
<circle cx="670.5" cy="256.7" r="6.65"/>
<circle cx="672.4" cy="256.4" r="6.65"/>
<circle cx="674.3" cy="254.6" r="6.65"/>
<circle cx="674.2" cy="253.4" r="6.65"/>
<circle cx="675.5" cy="252.1" r="6.65"/>
<circle cx="676.2" cy="251.5" r="6.65"/>
<circle cx="676.9" cy="250.3" r="6.65"/>
<circle cx="677.8" cy="249.9" r="6.65"/>
<circle cx="678.8" cy="247.9" r="6.65"/>
<circle cx="679.2" cy="247.3" r="6.65"/>
<circle cx="679.9" cy="247.6" r="6.65"/>
<circle cx="680.4" cy="246.2" r="6.65"/>
<circle cx="680.1" cy="246.4" r="6.65"/>
<circle cx="681.4" cy="244.6" r="6.65"/>
<circle cx="681.6" cy="244.2" r="6.65"/>
<circle cx="683.5" cy="242.6" r="6.65"/>
<circle cx="683.0" cy="241.4" r="6.65"/>
<circle cx="683.7" cy="240.5" r="6.65"/>
<circle cx="684.8" cy="239.1" r="6.65"/>
<circle cx="685.5" cy="238.8" r="6.65"/>
<circle cx="685.7" cy="238.1" r="6.65"/>
<circle cx="686.1" cy="237.4" r="6.65"/>
<circle cx="686.9" cy="237.7" r="6.65"/>
<circle cx="687.1" cy="236.1" r="6.65"/>
<circle cx="688.2" cy="235.4" r="6.65"/>
<circle cx="688.1" cy="236.0" r="6.65"/>
<circle cx="688.8" cy="235.9" r="6.65"/>
<circle cx="688.0" cy="234.6" r="6.65"/>
<circle cx="690.8" cy="230.9" r="6.65"/>
<circle cx="691.5" cy="229.8" r="6.65"/>
<circle cx="693.5" cy="228.9" r="6.65"/>
<circle cx="695.0" cy="227.5" r="6.65"/>
<circle cx="696.6" cy="227.0" r="6.65"/>
<circle cx="696.2" cy="226.2" r="6.65"/>
<circle cx="697.5" cy="224.1" r="6.65"/>
<circle cx="697.7" cy="222.8" r="6.65"/>
<circle cx="697.0" cy="221.8" r="6.65"/>
<circle cx="699.0" cy="221.8" r="6.65"/>
<circle cx="699.1" cy="219.6" r="6.65"/>
<circle cx="699.6" cy="218.8" r="6.65"/>
<circle cx="700.3" cy="219.1" r="6.65"/>
<circle cx="698.9" cy="218.0" r="6.65"/>
<circle cx="700.9" cy="218.2" r="6.65"/>
<circle cx="702.1" cy="217.2" r="6.65"/>
<circle cx="701.7" cy="214.9" r="6.65"/>
<circle cx="703.5" cy="212.0" r="6.65"/>
<circle cx="704.5" cy="209.0" r="6.65"/>
<circle cx="736.8" cy="144.9" r="6.65"/>
<circle cx="732.3" cy="153.5" r="6.65"/>
<circle cx="730.6" cy="158.5" r="6.65"/>
<circle cx="730.1" cy="160.8" r="6.65"/>
<circle cx="729.6" cy="163.0" r="6.65"/>
<circle cx="728.3" cy="169.5" r="6.65"/>
<circle cx="727.2" cy="174.5" r="6.65"/>
<circle cx="727.0" cy="175.6" r="6.65"/>
<circle cx="726.7" cy="176.7" r="6.65"/>
<circle cx="726.5" cy="177.8" r="6.65"/>
<circle cx="726.2" cy="178.9" r="6.65"/>
<circle cx="726.0" cy="180.0" r="6.65"/>
<circle cx="724.8" cy="183.5" r="6.65"/>
<circle cx="723.1" cy="186.1" r="6.65"/>
<circle cx="722.8" cy="187.0" r="6.65"/>
<circle cx="722.4" cy="187.8" r="6.65"/>
<circle cx="722.0" cy="188.7" r="6.65"/>
<circle cx="721.7" cy="189.6" r="6.65"/>
<circle cx="721.4" cy="190.5" r="6.65"/>
<circle cx="721.0" cy="191.3" r="6.65"/>
<circle cx="720.6" cy="192.2" r="6.65"/>
<circle cx="720.3" cy="193.1" r="6.65"/>
<circle cx="727.0" cy="189.6" r="6.65"/>
<circle cx="718.5" cy="193.8" r="6.65"/>
<circle cx="716.0" cy="194.5" r="6.65"/>
<circle cx="714.7" cy="194.6" r="6.65"/>
<circle cx="713.9" cy="195.2" r="6.65"/>
<circle cx="713.0" cy="195.8" r="6.65"/>
<circle cx="712.2" cy="196.3" r="6.65"/>
<circle cx="711.4" cy="196.9" r="6.65"/>
<circle cx="710.5" cy="197.5" r="6.65"/>
<circle cx="709.7" cy="198.1" r="6.65"/>
<circle cx="708.8" cy="200.5" r="6.65"/>
<circle cx="708.0" cy="202.1" r="6.65"/>
<circle cx="707.1" cy="203.8" r="6.65"/>
<circle cx="706.3" cy="205.4" r="6.65"/>
<circle cx="705.5" cy="207.0" r="6.65"/>
</g>
<path d="M100.6 842.2L737.7 211.7" stroke="#f00" stroke-opacity="0.33" stroke-width="4.17" fill="none"/>
<path d="M47.5 898.39L859.9 90.61" stroke="#00f" stroke-opacity="0.33" stroke-width="4.17" fill="none"/>
</g>
<path d="M102.5 880.5v4.86M67.5 845.5h-4.86M259.5 880.5v4.86M67.5 688.5h-4.86M417.5 880.5v4.86M67.5 532.5h-4.86M575.5 880.5v4.86M67.5 375.5h-4.86M732.5 880.5v4.86M67.5 218.5h-4.86" stroke="#000" stroke-width="1.11" fill="none"/>
<rect x="67.5" y="110.5" width="775.0" height="770.0" fill="none" stroke="#000" stroke-width="1.11"/>
<g font-family="DejaVu Sans, Liberation Sans, sans-serif" font-size="13.89px" fill="#000">
<text x="102.5" y="900.8" text-anchor="middle">0</text>
<text x="57.5" y="850.30" text-anchor="end">0</text>
<text x="259.5" y="900.8" text-anchor="middle">200</text>
<text x="57.5" y="693.30" text-anchor="end">200</text>
<text x="417.5" y="900.8" text-anchor="middle" textLength="25.1" lengthAdjust="spacingAndGlyphs">400</text>
<text x="56.2" y="537.10" text-anchor="end" textLength="25.1" lengthAdjust="spacingAndGlyphs">400</text>
<text x="575.5" y="900.8" text-anchor="middle">600</text>
<text x="57.5" y="380.30" text-anchor="end">600</text>
<text x="732.5" y="900.8" text-anchor="middle">800</text>
<text x="57.5" y="223.30" text-anchor="end">800</text>
</g>
<text font-family="DejaVu Sans, Liberation Sans, sans-serif" font-size="16.67px" x="453.4" y="921" text-anchor="middle" textLength="83.1" lengthAdjust="spacing">Simulated</text>
<text font-family="DejaVu Sans, Liberation Sans, sans-serif" font-size="16.67px" transform="translate(22.0 496.1) rotate(-90)" text-anchor="middle">Observed</text>
<text font-family="DejaVu Sans, Liberation Sans, sans-serif" font-size="19.44px" x="441.2" y="25.3" text-anchor="middle">Q-Q plot at is.vi.6012 for downward_shortwave_flux</text>
<text font-family="DejaVu Sans, Liberation Sans, sans-serif" font-size="19.44px" x="441.5" y="47.7" text-anchor="middle">from rav2-16-17 during year</text>
</svg>
</body></html>
